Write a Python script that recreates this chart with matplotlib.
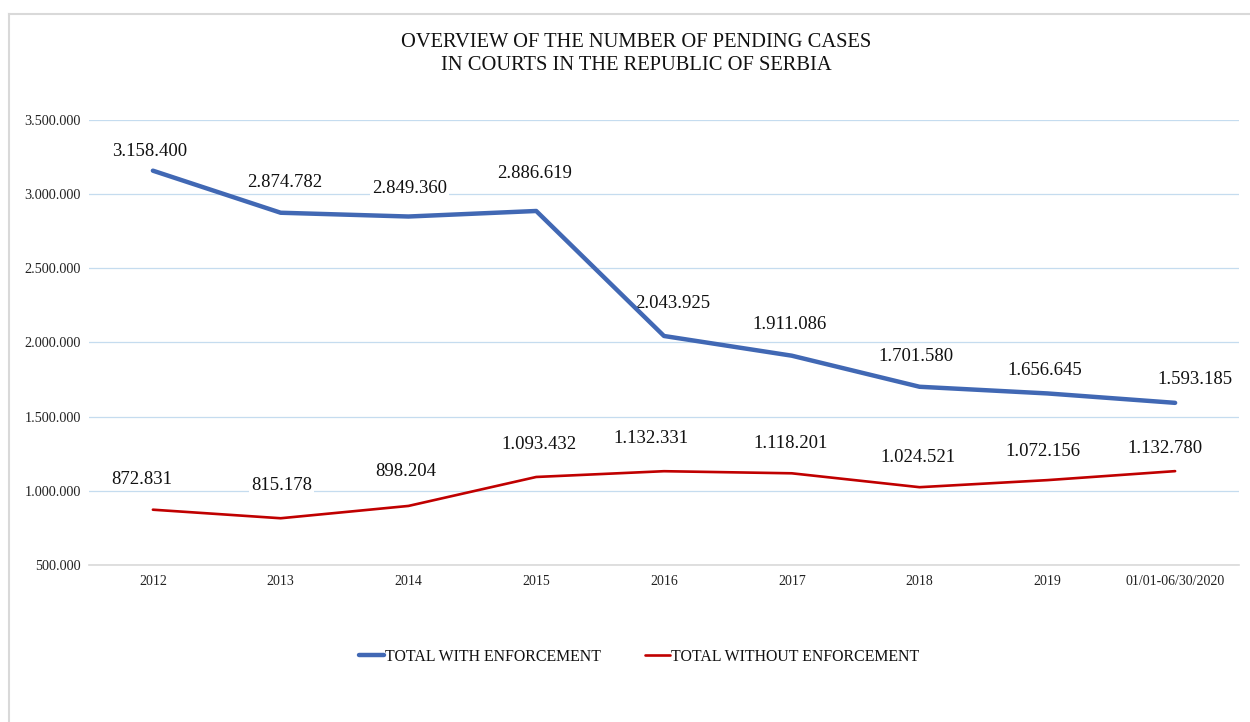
import matplotlib
matplotlib.use("Agg")
import matplotlib.pyplot as plt
from matplotlib.lines import Line2D

categories = ["2012", "2013", "2014", "2015", "2016", "2017", "2018", "2019", "01/01-06/30/2020"]
with_enf = [3158400, 2874782, 2849360, 2886619, 2043925, 1911086, 1701580, 1656645, 1593185]
without_enf = [872831, 815178, 898204, 1093432, 1132331, 1118201, 1024521, 1072156, 1132780]
yticks = [500000, 1000000, 1500000, 2000000, 2500000, 3000000, 3500000]
series_names = ["TOTAL WITH ENFORCEMENT", "TOTAL WITHOUT ENFORCEMENT"]
title = "OVERVIEW OF THE NUMBER OF PENDING CASES\nIN COURTS IN THE REPUBLIC OF SERBIA"

# label placement offsets (pixels) relative to each point, as placed in the original
blue_label_off = [(-3, 19), (4, 30), (1, 28), (-2, 37), (9, 32), (-2, 31), (-4, 30), (-3, 23), (20, 23)]
red_label_off = [(-11, 30), (1, 33), (-3, 34), (3, 32), (-13, 33), (-1, 30), (-2, 30), (-4, 29), (-10, 23)]

plt.rcParams['font.family'] = ['Liberation Serif', 'DejaVu Serif']

def fmt(v):
    return f"{v:,}".replace(",", ".")

W, H = 1250, 722
fig = plt.figure(figsize=(12.5, 7.22), dpi=100)
ax = fig.add_axes([89 / W, 1 - 565 / H, (1239 - 89) / W, (565 - 120) / H])

x = list(range(len(categories)))
blue = "#4168B4"
red = "#C00000"
l1, = ax.plot(x, with_enf, color=blue, lw=3.2, solid_capstyle='round', zorder=5)
l2, = ax.plot(x, without_enf, color=red, lw=1.9, solid_capstyle='round', zorder=5)

ax.set_xlim(-0.5, len(categories) - 0.5)
ax.set_ylim(yticks[0], yticks[-1])
ax.set_yticks(yticks)
ax.set_yticklabels([fmt(v) for v in yticks], fontsize=10.3)
ax.set_xticks(x)
ax.set_xticklabels(categories, fontsize=10)
ax.tick_params(axis='both', length=0, colors='#222222')
ax.tick_params(axis='y', pad=6)
ax.tick_params(axis='x', pad=7)
for s in ['left', 'right', 'top']:
    ax.spines[s].set_visible(False)
ax.spines['bottom'].set_color('#D9D9D9')
ax.spines['bottom'].set_linewidth(1.2)
ax.grid(axis='y', color='#C5DCEF', lw=0.9)
ax.set_axisbelow(True)

for series, offs in ((with_enf, blue_label_off), (without_enf, red_label_off)):
    for i, v in enumerate(series):
        ax.annotate(fmt(v), (i, v), xytext=offs[i], textcoords='offset pixels',
                    ha='center', va='center', fontsize=13.5, color='#111111', zorder=4,
                    bbox=dict(boxstyle='square,pad=0.1', fc='white', ec='none'))

fig.text(636 / W, 1 - 54 / H, title, ha='center', va='center', fontsize=14.8,
         linespacing=1.27, color='#111111')

leg = fig.legend([l1, l2], series_names, loc='center', bbox_to_anchor=(639 / W, 1 - 657 / H),
                 ncol=2, frameon=False, fontsize=11.4, handlelength=1.6, handletextpad=0.05,
                 columnspacing=2.8)
for t in leg.get_texts():
    t.set_color('#111111')

border = '#D9D9D9'
fig.add_artist(Line2D([9 / W, 1.0], [1 - 14 / H, 1 - 14 / H], color=border, lw=1.5, transform=fig.transFigure))
fig.add_artist(Line2D([9 / W, 9 / W], [0, 1 - 14 / H], color=border, lw=1.5, transform=fig.transFigure))

fig.savefig("out.png", dpi=100, facecolor='white')
